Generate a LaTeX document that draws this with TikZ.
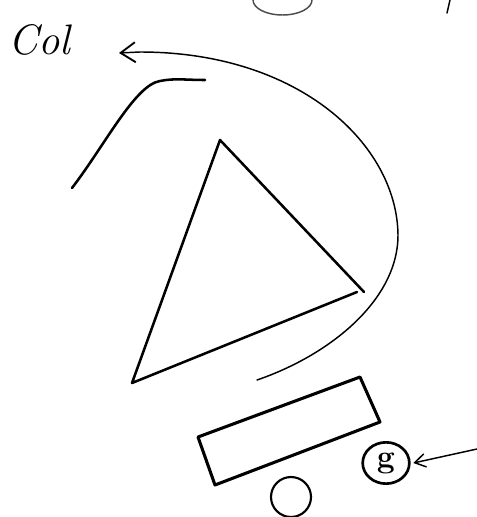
\documentclass[tikz,border=0pt]{standalone}
\usetikzlibrary{arrows.meta,shapes.geometric}

\tikzset{every picture/.style={line width=0.75pt}}
\tikzset{
  ink/.style={line width=1.9pt, line cap=round, line join=round},
  thinink/.style={line width=1.1pt, line cap=round},
  barb/.style={-{Straight Barb[length=11pt,width=15pt,line width=1.4pt]}},
}

\begin{document}
\begin{tikzpicture}[x=0.75pt,y=0.75pt,yscale=-1,xscale=1]
  \useasboundingbox (0,0) rectangle (477,517);

  %Circle cut at top
  \draw [thinink, black!70] (253,0) arc (180:0:29.5 and 15);
  %Straight Lines tick top right
  \draw [thinink] (447,13) -- (450,0);

  % Text Node
  \node (col) [anchor=west, inner sep=0pt, font=\fontsize{32}{32}\selectfont\itshape] at (8,40) {Col};

  %Curve Lines big curve with arrow
  \coordinate (tip) at (119,53);
  \draw [thinink, barb] (257,380) .. controls (330,355) and (398,300) .. (398,235) .. controls (397,145) and (300,52) .. (140,52) -- (tip);

  %Curve Lines hook
  \draw [ink] (72,188) .. controls (105,145) and (135,85) .. (160,81) .. controls (175,78) and (185,80) .. (205,80);

  %Triangle
  \coordinate (ta) at (220,140);
  \coordinate (tb) at (364,292);
  \coordinate (tc) at (132,383);
  \draw [ink] (tb) -- (ta) -- (tc) -- (357,292);

  %Tilted rectangle
  \draw [ink, line width=2.3pt] (198,437) -- (360,377) -- (380,422) -- (215,485) -- cycle;

  %Circle bottom
  \draw [ink, line width=1.6pt] (291,497) circle (20);

  %Circled letter
  \node (sig) [draw, ellipse, line width=2pt, minimum width=35pt, minimum height=31pt, inner sep=0pt, font=\fontsize{24}{24}\selectfont\bfseries] at (386,463) {g};
  \coordinate (pt) at (477,449);
  \draw [thinink, -{Straight Barb[length=8pt,width=10pt,line width=1.1pt]}] (pt) -- ([xshift=2pt]sig.east);
\end{tikzpicture}
\end{document}
